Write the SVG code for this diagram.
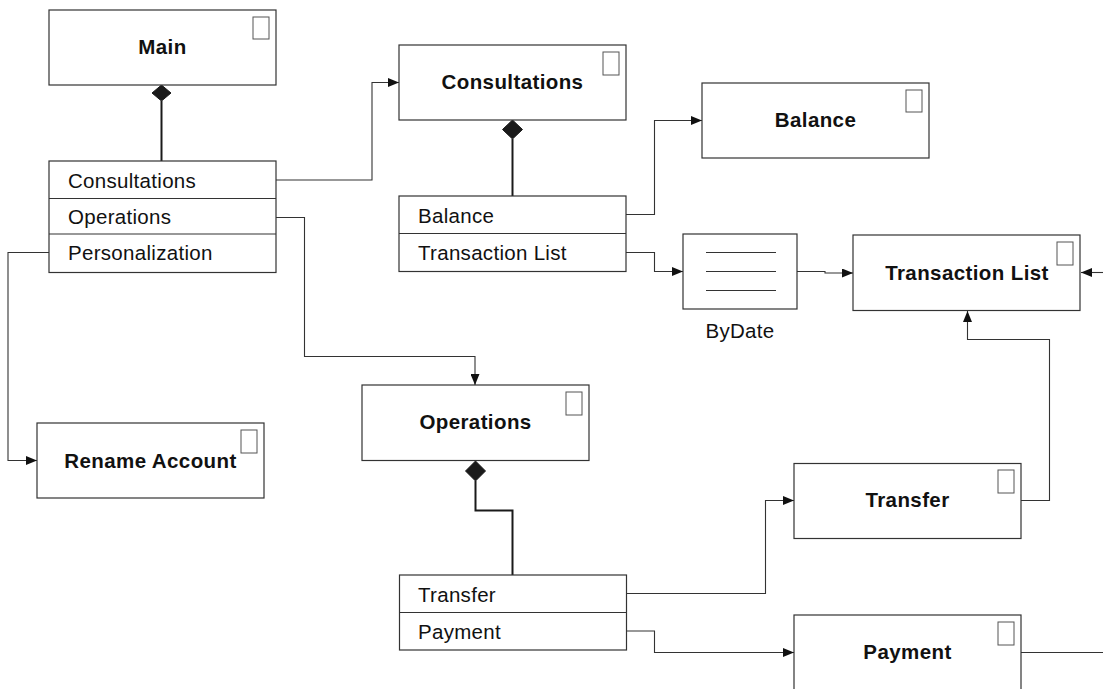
<svg xmlns="http://www.w3.org/2000/svg" width="1103" height="689" viewBox="0 0 1103 689">
<style>
.box{fill:#fff;stroke:#333;stroke-width:1.2}
.tag{fill:#fff;stroke:#555;stroke-width:1}
.title{font-family:"Liberation Sans",Arial,sans-serif;font-size:20.5px;font-weight:bold;letter-spacing:0.4px;fill:#111;text-anchor:middle}
.item{font-family:"Liberation Sans",Arial,sans-serif;font-size:20.5px;letter-spacing:0.3px;fill:#111}
.conn{fill:none;stroke:#333;stroke-width:1.1}
.comp{fill:none;stroke:#1a1a1a;stroke-width:2}
.dia{fill:#1a1a1a;stroke:#1a1a1a;stroke-width:1}
.sep{stroke:#333;stroke-width:1.2}
</style>
<defs>
<marker id="arr" viewBox="0 0 11 9" refX="11" refY="4.5" markerWidth="11" markerHeight="9" markerUnits="userSpaceOnUse" orient="auto">
<path d="M0,0 L11,4.5 L0,9 Z" fill="#111"/>
</marker>
</defs>
<rect width="1103" height="689" fill="#fff"/>

<g id="connectors">
<path class="conn" d="M276,180 H372 V82.5 H399" marker-end="url(#arr)"/>
<path class="conn" d="M276,217.5 H304.5 V356.5 H475 V385" marker-end="url(#arr)"/>
<path class="conn" d="M49,252.5 H8 V460.5 H37" marker-end="url(#arr)"/>
<path class="conn" d="M626,214.5 H654.5 V120.5 H702" marker-end="url(#arr)"/>
<path class="conn" d="M626,252.5 H654.5 V271.5 H683" marker-end="url(#arr)"/>
<path class="conn" d="M797,271.5 H825 V273 H853" marker-end="url(#arr)"/>
<path class="conn" d="M1103,272.5 H1081" marker-end="url(#arr)"/>
<path class="conn" d="M1021,500.5 H1049.5 V339.5 H967.5 V311" marker-end="url(#arr)"/>
<path class="conn" d="M626.5,593.5 H765.5 V500.5 H794" marker-end="url(#arr)"/>
<path class="conn" d="M626.5,631 H654.5 V652.5 H794" marker-end="url(#arr)"/>
<path class="conn" d="M1021,652.5 H1103"/>
<path class="comp" d="M161.5,101 V161"/>
<path class="comp" d="M512.5,139 V196"/>
<path class="comp" d="M475.5,481 V510.5 H512.5 V575"/>
<path class="dia" d="M161.5,85 L171,93 L161.5,101 L152,93 Z"/>
<path class="dia" d="M512.5,120 L522.5,129.5 L512.5,139 L502.5,129.5 Z"/>
<path class="dia" d="M475.5,461 L485.5,471 L475.5,481 L465.5,471 Z"/>
</g>

<g id="main">
<rect class="box" x="49" y="10" width="227" height="75"/>
<rect class="tag" x="253" y="17" width="16" height="22"/>
<text class="title" x="162.5" y="54">Main</text>
</g>

<g id="main-list">
<rect class="box" x="49" y="161" width="227" height="111.5"/>
<line class="sep" x1="49" y1="198.5" x2="276" y2="198.5"/>
<line class="sep" x1="49" y1="234" x2="276" y2="234"/>
<text class="item" x="68" y="187.5">Consultations</text>
<text class="item" x="68" y="224">Operations</text>
<text class="item" x="68" y="260">Personalization</text>
</g>

<g id="consultations">
<rect class="box" x="399" y="45" width="227" height="75"/>
<rect class="tag" x="603" y="52" width="16" height="23"/>
<text class="title" x="512.5" y="89">Consultations</text>
</g>

<g id="consultations-list">
<rect class="box" x="399" y="196" width="227" height="75.5"/>
<line class="sep" x1="399" y1="233.5" x2="626" y2="233.5"/>
<text class="item" x="418" y="222.5">Balance</text>
<text class="item" x="418" y="260">Transaction List</text>
</g>

<g id="balance">
<rect class="box" x="702" y="83" width="227" height="75"/>
<rect class="tag" x="906" y="90" width="16" height="22"/>
<text class="title" x="815.5" y="127">Balance</text>
</g>

<g id="bydate">
<rect class="box" x="683" y="234" width="114" height="75"/>
<line class="sep" x1="706" y1="252.5" x2="776" y2="252.5"/>
<line class="sep" x1="706" y1="271.5" x2="776" y2="271.5"/>
<line class="sep" x1="706" y1="290.5" x2="776" y2="290.5"/>
<text class="item" x="740" y="338" text-anchor="middle">ByDate</text>
</g>

<g id="transaction-list">
<rect class="box" x="853" y="235" width="227" height="75.5"/>
<rect class="tag" x="1057" y="242" width="16" height="23"/>
<text class="title" x="967" y="280">Transaction List</text>
</g>

<g id="rename-account">
<rect class="box" x="37" y="423" width="227" height="75"/>
<rect class="tag" x="241" y="430" width="16" height="23"/>
<text class="title" x="150.5" y="468">Rename Account</text>
</g>

<g id="operations">
<rect class="box" x="362" y="385" width="227" height="75.5"/>
<rect class="tag" x="566" y="392" width="16" height="23"/>
<text class="title" x="475.5" y="429">Operations</text>
</g>

<g id="operations-list">
<rect class="box" x="399.5" y="575" width="227" height="75"/>
<line class="sep" x1="399.5" y1="612.5" x2="626.5" y2="612.5"/>
<text class="item" x="418" y="601.5">Transfer</text>
<text class="item" x="418" y="639">Payment</text>
</g>

<g id="transfer">
<rect class="box" x="794" y="463.5" width="227" height="75"/>
<rect class="tag" x="998" y="470" width="16" height="23"/>
<text class="title" x="907.5" y="507">Transfer</text>
</g>

<g id="payment">
<rect class="box" x="794" y="615" width="227" height="75"/>
<rect class="tag" x="998" y="622" width="16" height="23"/>
<text class="title" x="907.5" y="659">Payment</text>
</g>
</svg>
